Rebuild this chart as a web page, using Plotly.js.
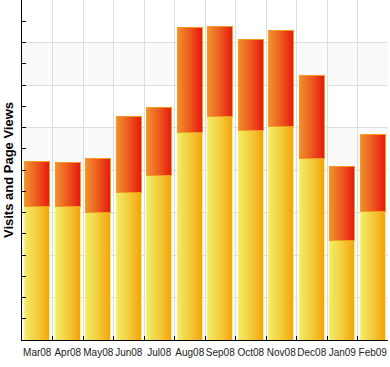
<!DOCTYPE html>
<html>
<head>
<meta charset="utf-8">
<script src="https://cdn.plot.ly/plotly-3.0.1.min.js"></script>
<style>html,body{margin:0;padding:0;background:#fff;}#chart{width:390px;height:367px;}</style>
</head>
<body>
<div id="chart"></div>
<script>
const months = ["Mar08","Apr08","May08","Jun08","Jul08","Aug08","Sep08","Oct08","Nov08","Dec08","Jan09","Feb09"];
const visits = [3150,3130,2990,3480,3860,4890,5250,4920,5030,4280,2350,3030];
const pageViewsExtra = [1040,1040,1270,1770,1620,2470,2120,2140,2260,1950,1740,1810];
const yMax = 8000;

const bands = [];
for (let v = 0; v < yMax; v += 2000) {
  bands.push({type:'rect', xref:'paper', yref:'y', x0:0, x1:1, y0:v, y1:v+1000,
    fillcolor:'#fafafa', line:{width:0}, layer:'below'});
}

const traces = [
  {type:'bar', x:months, y:visits, name:'Visits',
   marker:{color:'#f3c832', line:{color:'#f9ef86', width:1}}},
  {type:'bar', x:months, y:pageViewsExtra, name:'Page Views',
   marker:{color:'#ee5a1e', line:{color:'#f39a22', width:1}}}
];

const layout = {
  width:390, height:367,
  margin:{l:22, r:2, t:0, b:27},
  barmode:'stack', bargap:0.18,
  showlegend:false,
  paper_bgcolor:'#ffffff', plot_bgcolor:'#ffffff',
  font:{family:'Liberation Sans, Arial, sans-serif', size:10, color:'#222'},
  shapes:bands,
  xaxis:{type:'category', range:[-0.5, months.length-0.5], tickson:'boundaries',
    tickangle:0, ticklabelstandoff:3,
    showgrid:true, gridcolor:'#dddddd', gridwidth:1,
    ticks:'inside', ticklen:4, tickcolor:'#000', tickwidth:1,
    showline:true, linecolor:'#000', linewidth:1,
    tickfont:{size:10, color:'#222'}, fixedrange:true},
  yaxis:{range:[0, yMax], dtick:1000, showticklabels:false,
    showgrid:true, gridcolor:'#dddddd', gridwidth:1,
    ticks:'inside', ticklen:4, tickcolor:'#000', tickwidth:1,
    minor:{dtick:500, ticks:'inside', ticklen:4, tickcolor:'#000', showgrid:false},
    showline:true, linecolor:'#000', linewidth:1, zeroline:false,
    title:{text:'Visits and Page Views', font:{size:13, color:'#000', family:'Liberation Sans, Arial, sans-serif', weight:'bold'}, standoff:4},
    fixedrange:true}
};

Plotly.newPlot('chart', traces, layout, {staticPlot:true, displayModeBar:false}).then(function(gd){
  const svg = gd.querySelector('.main-svg');
  const ns = 'http://www.w3.org/2000/svg';
  let defs = svg.querySelector('defs');
  if (!defs) { defs = document.createElementNS(ns,'defs'); svg.insertBefore(defs, svg.firstChild); }
  function grad(id, stops){
    const g = document.createElementNS(ns,'linearGradient');
    g.setAttribute('id', id); g.setAttribute('x1','0'); g.setAttribute('y1','0'); g.setAttribute('x2','1'); g.setAttribute('y2','0');
    stops.forEach(function(s){
      const st = document.createElementNS(ns,'stop');
      st.setAttribute('offset', s[0]); st.setAttribute('stop-color', s[1]);
      g.appendChild(st);
    });
    defs.appendChild(g);
  }
  grad('gYellow', [['0','#f0ee66'],['0.5','#f3cc3c'],['1','#f5a208']]);
  grad('gRed', [['0','#ef922e'],['0.5','#ec5a1e'],['1','#e8160f']]);
  const ids = ['gYellow','gRed'];
  gd.querySelectorAll('.barlayer .trace').forEach(function(t, i){
    t.querySelectorAll('.point path').forEach(function(p){
      p.style.fill = 'url(#' + ids[i] + ')';
    });
  });
});
</script>
</body>
</html>
